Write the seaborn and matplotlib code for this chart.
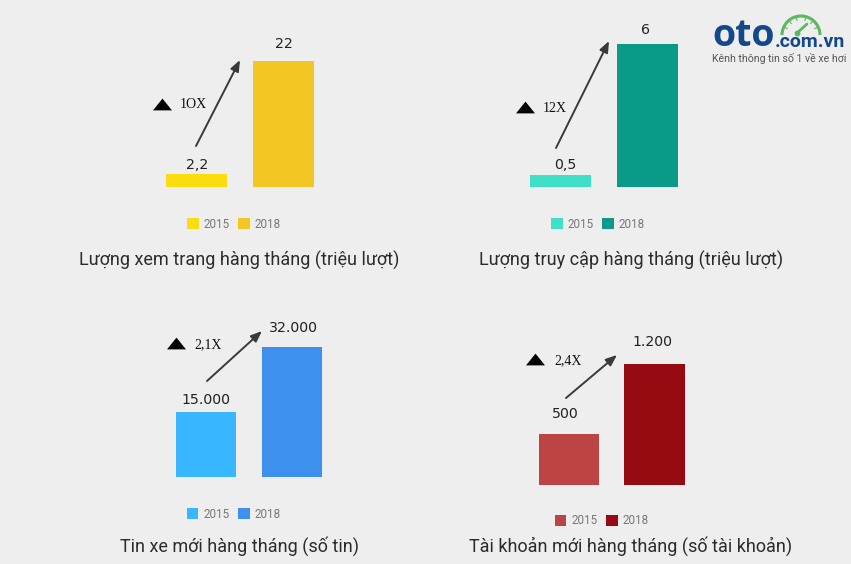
import matplotlib
matplotlib.use("Agg")
import matplotlib.pyplot as plt
from matplotlib.patches import Arc
import numpy as np
import pandas as pd
import seaborn as sns

W, H = 851, 564
BG = "#EEEEEE"

years = ["2015", "2018"]
titles = ["Lượng xem trang hàng tháng (triệu lượt)",
          "Lượng truy cập hàng tháng (triệu lượt)",
          "Tin xe mới hàng tháng (số tin)",
          "Tài khoản mới hàng tháng (số tài khoản)"]
# bar heights as drawn in the picture
views = [2.2, 22]
visits = [0.5, 6]
listings = [16000, 32000]
accounts = [500, 1200]
value_labels = [["2,2", "22"], ["0,5", "6"], ["15.000", "32.000"], ["500", "1.200"]]
growth = ["1OX", "12X", "2,1X", "2,4X"]
palettes = [["#FBDC0E", "#F3C623"], ["#40E0C8", "#0A9B88"],
            ["#38B6FF", "#3D90EC"], ["#BC4444", "#960A12"]]

series = [views, visits, listings, accounts]
# layout in reference pixels
bar_x0 = [196.5, 560.5, 206, 569]          # centre of first bar
bar_dx = [87, 87, 86, 85.5]
base_y = [187, 187, 477, 484.5]
top_y = [61, 44, 347, 364]
title_pos = [(239, 260), (631, 260), (239, 546), (631, 546)]
legend_pos = [(234, 224), (598, 224), (233.5, 514), (601.5, 521)]
label_pos = [[(197, 165), (284, 44), ], [(565, 165), (646, 30)],
             [(206, 400), (293, 328)], [(565, 414), (652, 342)]]
arrows = [((196, 146), (240, 60)), ((556, 148), (609, 41)),
          ((207, 381), (262, 331)), ((566, 398), (617, 355))]
tri_pos = [(162, 104), (525, 107), (176, 343), (535, 359)]
growth_pos = [(193, 105), (555, 109), (208, 345), (568, 361)]
tri_marker = [(-1, -0.62), (1, -0.62), (0, 0.62)]

sns.set_theme(style="white", rc={"figure.facecolor": BG, "axes.facecolor": "none"})
plt.rcParams["font.family"] = ["Roboto", "DejaVu Sans"]

fig = plt.figure(figsize=(W / 100, H / 100), dpi=100, facecolor=BG)

for i in range(4):
    left = bar_x0[i] - bar_dx[i] / 2
    width = 2 * bar_dx[i]
    ax = fig.add_axes([left / W, 1 - base_y[i] / H, width / W, (base_y[i] - top_y[i]) / H])
    df = pd.DataFrame({"year": years, "value": series[i]})
    sns.barplot(data=df, x="year", y="value", hue="year", palette=palettes[i],
                width=0.705, saturation=1, ax=ax, legend=True, linewidth=0, edgecolor="none")
    ax.set_xlim(-0.5, 1.5)
    ax.set_ylim(0, series[i][1])
    handles, labels = ax.get_legend_handles_labels()
    leg = ax.legend(handles, labels, ncol=2, frameon=False, loc="center",
                    bbox_to_anchor=(legend_pos[i][0] / W, 1 - legend_pos[i][1] / H),
                    bbox_transform=fig.transFigure, fontsize=8.4, labelcolor="#777777",
                    handlelength=1.0, handleheight=1.0, handletextpad=0.4,
                    columnspacing=0.75, borderpad=0)
    for h in leg.legend_handles:
        h.set_linewidth(0)
    ax.set_axis_off()

# overlay in reference pixel space for the annotations
ov = fig.add_axes([0, 0, 1, 1], facecolor="none")
ov.set_xlim(0, W)
ov.set_ylim(H, 0)
ov.set_axis_off()

for i in range(4):
    ov.text(*title_pos[i], titles[i], ha="center", va="center", fontsize=13,
            color="#2b2b2b", family=["Roboto", "DejaVu Sans"])
    for (x, y), s in zip(label_pos[i], value_labels[i]):
        ov.text(x, y, s, ha="center", va="center", fontsize=10.2, color="#222222",
                family=["DejaVu Sans"])
    start, end = arrows[i]
    ov.annotate("", xy=end, xytext=start,
                arrowprops=dict(arrowstyle="-|>,head_length=0.55,head_width=0.22",
                                color="#3a3a3a", lw=1.4, shrinkA=0, shrinkB=0))
    ov.scatter(*tri_pos[i], marker=tri_marker, s=187, color="black", linewidths=0)
    ov.text(*growth_pos[i], growth[i], ha="center", va="center", fontsize=10,
            color="#111111", family=["Liberation Serif", "DejaVu Serif"])

# logo
BLUE = "#14488C"
GREEN = "#5CB85C"
ov.add_patch(Arc((801, 35), 38, 38, theta1=180, theta2=360, color=GREEN, lw=2.2))
for a in np.deg2rad([205, 230, 255, 285, 310, 335]):
    ov.plot([801 + 15 * np.cos(a), 801 + 18 * np.cos(a)],
            [35 + 15 * np.sin(a), 35 + 18 * np.sin(a)], color=GREEN, lw=0.8)
ov.plot([797, 807], [33, 24], color=GREEN, lw=2)
ov.scatter([797], [33], s=18, color=GREEN, linewidths=0)
ov.text(712, 35.5, "oto", ha="left", va="center", fontsize=27, fontweight="bold",
        color=BLUE, family=["Open Sans", "DejaVu Sans"])
ov.text(775, 42, ".com.vn", ha="left", va="center", fontsize=14, fontweight="bold",
        color=BLUE, family=["Roboto", "DejaVu Sans"])
ov.text(712, 58, "Kênh thông tin số 1 về xe hơi", ha="left", va="center", fontsize=7.6,
        color="#555555", family=["Roboto", "DejaVu Sans"])

fig.savefig("out.png", dpi=100, facecolor=BG)
